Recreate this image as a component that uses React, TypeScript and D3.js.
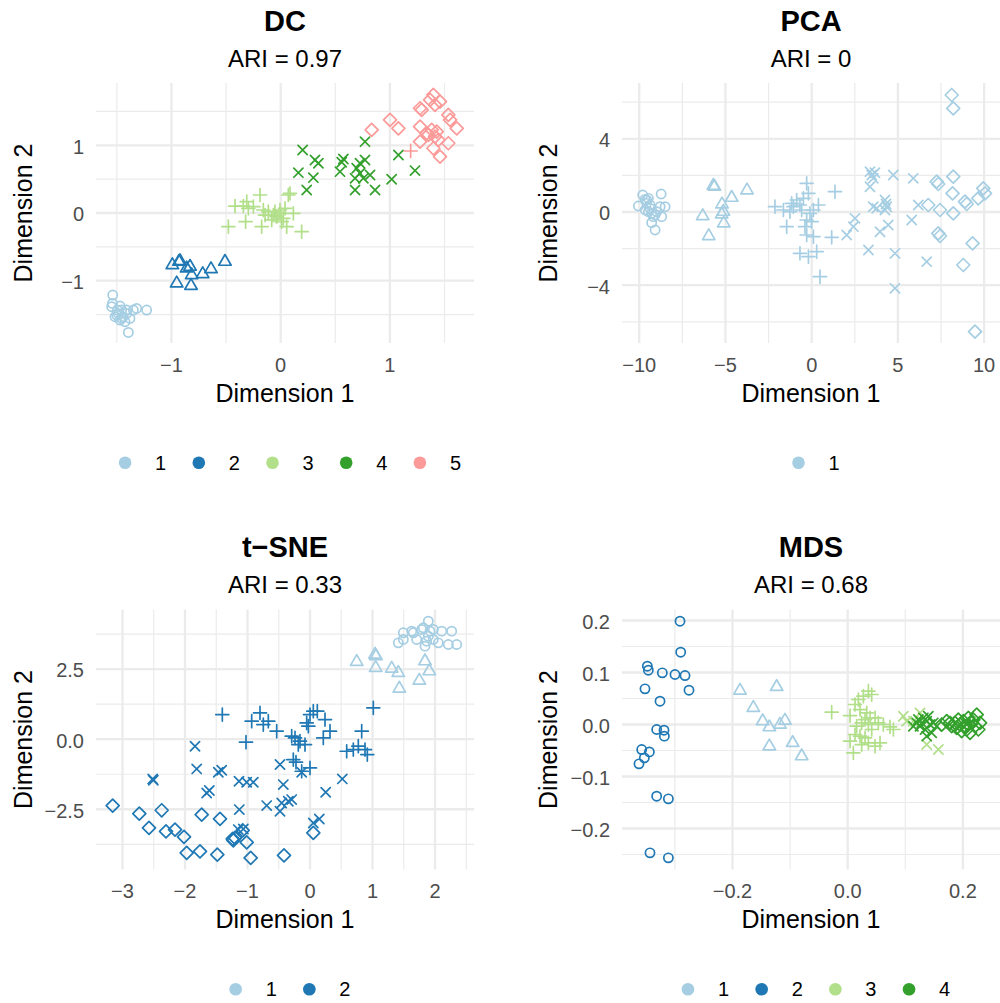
import React from "react";
import * as d3 from "d3";

type Pt = [number, number];

// Cluster colours (ColorBrewer "Paired")
const clusterColors = ["#A6CEE3", "#1F78B4", "#B2DF8A", "#33A02C", "#FB9A99"];

// ---------- DC ----------
const dcLabel1: Pt[] = [[-1.538,-1.212],[-1.541,-1.335],[-1.548,-1.384],[-1.471,-1.374],[-1.456,-1.433],[-1.502,-1.507],[-1.441,-1.532],[-1.410,-1.483],[-1.380,-1.557],[-1.471,-1.581],[-1.425,-1.606],[-1.395,-1.764],[-1.319,-1.409],[-1.227,-1.433],[-1.517,-1.532],[-1.487,-1.483],[-1.410,-1.433],[-1.349,-1.433],[-1.456,-1.557],[-1.496,-1.433]];
const dcLabel2: Pt[] = [[-0.992,-0.768],[-0.931,-0.719],[-0.922,-0.709],[-0.830,-0.793],[-0.815,-0.916],[-0.714,-0.901],[-0.638,-0.828],[-0.510,-0.719],[-0.952,-1.039],[-0.821,-1.074],[-0.861,-0.818]];
const dcLabel3: Pt[] = [[-0.479,-0.202],[-0.418,0.103],[-0.342,0.103],[-0.311,0.167],[-0.296,0.069],[-0.250,0.094],[-0.321,-0.128],[-0.189,0.266],[-0.174,-0.202],[-0.159,0.044],[-0.113,0.020],[-0.082,-0.103],[-0.067,-0.030],[-0.037,-0.054],[-0.006,-0.005],[0.009,-0.128],[0.024,-0.079],[0.040,0.069],[0.055,-0.202],[0.070,0.266],[0.085,0.291],[0.116,-0.005],[0.192,-0.276],[-0.006,0.044],[-0.052,0.020],[-0.143,-0.030]];
const dcLabel4: Pt[] = [[0.201,0.931],[0.314,0.783],[0.345,0.734],[0.162,0.596],[0.299,0.522],[0.238,0.340],[0.574,0.798],[0.559,0.749],[0.543,0.611],[0.772,1.054],[0.726,0.734],[0.772,0.783],[0.696,0.660],[0.726,0.586],[0.818,0.562],[0.681,0.512],[0.757,0.512],[0.681,0.340],[0.864,0.340],[1.016,0.498],[1.078,0.857],[1.230,0.626]];
const dcLabel5: Pt[] = [[0.833,1.227],[1.001,1.374],[1.078,1.251],[1.276,1.547],[1.291,1.522],[1.398,1.744],[1.459,1.645],[1.413,1.596],[1.368,1.670],[1.535,1.448],[1.551,1.374],[1.612,1.251],[1.276,1.276],[1.337,1.177],[1.383,1.227],[1.413,1.128],[1.429,1.202],[1.276,1.054],[1.398,0.956],[1.459,0.833],[1.535,1.030],[1.352,1.153],[1.444,1.079]];
const dcLabel3Stray: Pt[] = [[1.190,0.916]];

// ---------- PCA ----------
const pcaLabel1: Pt[] = [[-10.05,0.328],[-9.80,0.929],[-9.66,0.692],[-9.57,0.474],[-9.47,0.747],[-9.37,0.383],[-9.66,0.109],[-9.47,0.018],[-9.28,-0.073],[-9.08,-0.164],[-9.18,-0.255],[-8.99,0.018],[-8.79,0.291],[-8.73,0.984],[-8.50,0.291],[-8.70,-0.255],[-9.28,-0.583],[-9.08,-0.984],[-9.57,0.656],[-9.37,0.200]];
const pcaLabel2: Pt[] = [[-6.32,-0.219],[-5.97,-1.311],[-5.70,1.439],[-5.64,1.384],[-5.20,0.419],[-5.12,0.018],[-5.22,-0.128],[-5.10,-0.619],[-4.64,0.783],[-3.75,1.184]];
const pcaLabel3: Pt[] = [[-2.13,0.291],[-1.64,0.109],[-1.45,-0.801],[-1.16,0.474],[-1.06,0.291],[-0.87,0.656],[-0.68,0.383],[-0.58,0.109],[-0.48,0.747],[-0.29,1.567],[-0.19,1.020],[-0.29,-0.437],[-0.39,-0.801],[-0.10,-0.073],[0.10,0.109],[0.00,-0.528],[0.39,0.383],[-0.29,-1.257],[0.10,-1.348],[-0.68,-2.259],[-0.19,-2.441],[0.29,-2.168],[0.48,-3.534],[1.16,-1.384],[1.35,1.111],[-1.26,0.018]];
const pcaLabel4: Pt[] = [[2.03,-1.257],[2.42,-0.801],[2.51,-0.346],[3.29,-2.077],[3.38,2.204],[3.48,2.022],[3.57,1.840],[3.38,1.384],[3.57,0.291],[3.77,0.200],[3.96,-1.075],[4.25,0.656],[4.35,0.291],[4.44,-0.710],[4.25,0.109],[4.73,2.022],[4.83,-2.259],[4.83,-4.171],[5.89,1.840],[5.80,-0.437],[6.18,0.383],[6.67,-2.714],[3.67,2.149],[4.31,0.437]];
const pcaLabel5: Pt[] = [[6.76,0.383],[7.25,1.658],[7.34,1.530],[7.44,0.109],[8.21,1.931],[8.17,1.020],[8.21,-0.073],[8.89,0.565],[8.99,0.437],[9.66,0.747],[9.95,1.293],[10.05,1.020],[7.34,-1.166],[7.44,-1.311],[9.33,-1.712],[8.79,-2.896],[8.12,6.393],[8.21,5.665],[9.47,-6.539]];

// ---------- t-SNE ----------
const tsneLabel1: Pt[] = [[1.413,3.440],[1.493,3.560],[1.493,3.798],[1.627,3.857],[1.707,3.560],[1.787,3.917],[1.813,3.976],[1.893,4.214],[1.920,3.857],[1.867,3.500],[1.840,3.321],[1.973,3.560],[2.053,3.440],[2.107,3.857],[2.213,3.381],[2.267,3.857],[2.347,3.381],[1.893,3.679],[1.653,3.798],[1.973,3.917]];
const tsneLabel2: Pt[] = [[0.747,2.762],[1.040,3.024],[1.056,2.964],[1.051,2.548],[1.307,2.524],[1.413,2.369],[1.429,1.810],[1.749,2.095],[1.840,2.786],[1.909,2.429]];
const tsneLabel3: Pt[] = [[-1.403,0.881],[-1.024,-0.107],[-0.933,0.643],[-0.800,0.940],[-0.747,0.524],[-0.667,0.643],[-0.533,0.286],[-0.293,0.107],[-0.240,0.048],[-0.187,-0.190],[-0.160,-0.071],[-0.267,-0.726],[-0.224,-0.821],[-0.133,-1.143],[0.000,-1.024],[-0.053,0.583],[0.000,0.881],[0.053,1.000],[-0.027,0.464],[0.117,1.000],[0.240,0.702],[0.213,0.048],[0.320,0.286],[0.587,-0.429],[0.693,-0.369],[0.773,-0.250],[0.827,0.286],[0.880,-0.369],[0.917,-0.548],[1.013,1.119],[-0.080,-0.190]];
const tsneLabel4: Pt[] = [[-2.517,-1.417],[-2.507,-1.464],[-1.840,-0.250],[-1.813,-1.060],[-1.653,-1.917],[-1.611,-1.833],[-1.467,-1.179],[-1.413,-1.107],[-1.136,-1.500],[-1.013,-1.536],[-0.907,-1.536],[-1.131,-2.512],[-1.147,-3.226],[-1.067,-3.202],[-0.693,-2.369],[-0.480,-0.905],[-0.427,-1.619],[-0.453,-2.274],[-0.347,-2.214],[-0.293,-2.155],[-0.133,-1.179],[0.251,-1.893],[0.517,-1.417],[0.053,-2.988],[0.149,-2.845],[-0.480,-2.571]];
const tsneLabel5: Pt[] = [[-3.157,-2.369],[-2.731,-2.655],[-2.373,-2.536],[-2.576,-3.167],[-2.304,-3.286],[-2.160,-3.226],[-2.016,-3.488],[-1.973,-4.060],[-1.760,-4.000],[-1.733,-2.690],[-1.440,-2.845],[-1.483,-4.119],[-1.237,-3.560],[-1.200,-3.524],[-1.077,-3.250],[-1.013,-3.679],[-0.949,-4.238],[-0.416,-4.143],[0.053,-3.345],[-1.227,-3.607]];

// ---------- MDS ----------
const mdsLabel1: Pt[] = [[-0.2911,0.1987],[-0.2899,0.1391],[-0.3478,0.1122],[-0.3461,0.1045],[-0.3218,0.0994],[-0.2998,0.0962],[-0.2824,0.0942],[-0.3519,0.0686],[-0.2755,0.0660],[-0.3258,0.0449],[-0.3316,-0.0096],[-0.3189,-0.0109],[-0.3183,-0.0224],[-0.3576,-0.0481],[-0.3443,-0.0526],[-0.3530,-0.0641],[-0.3623,-0.0756],[-0.3316,-0.1378],[-0.3113,-0.1429],[-0.3432,-0.2468],[-0.3113,-0.2564]];
const mdsLabel2: Pt[] = [[-0.1869,0.0654],[-0.1233,0.0724],[-0.1638,0.0321],[-0.1476,0.0064],[-0.1360,-0.0051],[-0.1175,0.0000],[-0.1088,0.0077],[-0.1360,-0.0417],[-0.0955,-0.0353],[-0.0799,-0.0609]];
const mdsLabel3: Pt[] = [[-0.0278,0.0237],[0.0041,0.0173],[0.0127,0.0385],[0.0185,0.0481],[0.0272,0.0545],[0.0359,0.0641],[0.0417,0.0577],[0.0214,0.0288],[0.0330,0.0224],[0.0301,0.0096],[0.0388,0.0128],[0.0243,0.0032],[0.0359,0.0000],[0.0475,0.0128],[0.0532,0.0032],[0.0619,0.0000],[0.0735,-0.0045],[0.0793,-0.0096],[0.0127,-0.0192],[0.0041,-0.0321],[0.0098,-0.0545],[0.0214,-0.0224],[0.0301,-0.0256],[0.0359,-0.0353],[0.0475,-0.0417],[0.0561,-0.0353],[0.0243,-0.0385],[0.0417,-0.0096],[0.0156,-0.0032]];
const mdsLabel4InCluster3: Pt[] = [[0.0966,0.0160],[0.1024,0.0064],[0.1256,0.0224],[0.1372,-0.0385],[0.1574,-0.0481],[0.1140,0.0064]];
const mdsLabel4InCluster4: Pt[] = [[0.1198,0.0032],[0.1256,-0.0032],[0.1314,0.0128],[0.1372,0.0064],[0.1429,0.0000],[0.1343,-0.0096],[0.1227,0.0096],[0.1400,0.0160],[0.1140,-0.0032],[0.1458,-0.0160],[0.1285,0.0032],[0.1487,0.0032],[0.1545,-0.0032],[0.1372,-0.0224]];
const mdsLabel5: Pt[] = [[0.1719,0.0064],[0.1806,-0.0032],[0.1863,0.0032],[0.1921,0.0096],[0.1950,0.0000],[0.2008,0.0064],[0.2037,-0.0032],[0.2066,-0.0096],[0.2095,0.0000],[0.2153,0.0032],[0.2211,-0.0032],[0.2240,0.0192],[0.2269,-0.0096],[0.2124,-0.0160],[0.1979,-0.0128],[0.1892,-0.0064],[0.1777,0.0032],[0.2182,0.0096],[0.2297,0.0032],[0.2095,0.0128],[0.1632,0.0000]];

// ---------- axes ----------
const dcXTicks = [-1, 0, 1];
const dcXTickLabels = ["\u22121", "0", "1"];
const dcYTicks = [-1, 0, 1];
const dcYTickLabels = ["\u22121", "0", "1"];
const pcaXTicks = [-10, -5, 0, 5, 10];
const pcaXTickLabels = ["\u221210", "\u22125", "0", "5", "10"];
const pcaYTicks = [-4, 0, 4];
const pcaYTickLabels = ["\u22124", "0", "4"];
const tsneXTicks = [-3, -2, -1, 0, 1, 2];
const tsneXTickLabels = ["\u22123", "\u22122", "\u22121", "0", "1", "2"];
const tsneYTicks = [-2.5, 0, 2.5];
const tsneYTickLabels = ["\u22122.5", "0.0", "2.5"];
const mdsXTicks = [-0.2, 0, 0.2];
const mdsXTickLabels = ["\u22120.2", "0.0", "0.2"];
const mdsYTicks = [-0.2, -0.1, 0, 0.1, 0.2];
const mdsYTickLabels = ["\u22120.2", "\u22120.1", "0.0", "0.1", "0.2"];

type Series = { label: number; cluster: number; pts: Pt[] };

type PanelSpec = {
  title: string;
  ari: string;
  col: number;
  row: number;
  xDomain: [number, number];
  yDomain: [number, number];
  xTicks: number[];
  xTickLabels: string[];
  yTicks: number[];
  yTickLabels: string[];
  series: Series[];
  legend: number[];
};

const panels: PanelSpec[] = [
  {
    title: "DC", ari: "ARI = 0.97", col: 0, row: 0,
    xDomain: [-1.691, 1.770], yDomain: [-1.92, 1.92],
    xTicks: dcXTicks, xTickLabels: dcXTickLabels, yTicks: dcYTicks, yTickLabels: dcYTickLabels,
    series: [
      { label: 1, cluster: 1, pts: dcLabel1 },
      { label: 2, cluster: 2, pts: dcLabel2 },
      { label: 3, cluster: 3, pts: dcLabel3 },
      { label: 4, cluster: 4, pts: dcLabel4 },
      { label: 5, cluster: 5, pts: dcLabel5 },
      { label: 3, cluster: 5, pts: dcLabel3Stray },
    ],
    legend: [1, 2, 3, 4, 5],
  },
  {
    title: "PCA", ari: "ARI = 0", col: 1, row: 0,
    xDomain: [-11.0, 10.92], yDomain: [-7.158, 7.049],
    xTicks: pcaXTicks, xTickLabels: pcaXTickLabels, yTicks: pcaYTicks, yTickLabels: pcaYTickLabels,
    series: [
      { label: 1, cluster: 1, pts: pcaLabel1 },
      { label: 2, cluster: 1, pts: pcaLabel2 },
      { label: 3, cluster: 1, pts: pcaLabel3 },
      { label: 4, cluster: 1, pts: pcaLabel4 },
      { label: 5, cluster: 1, pts: pcaLabel5 },
    ],
    legend: [1],
  },
  {
    title: "t\u2212SNE", ari: "ARI = 0.33", col: 0, row: 1,
    xDomain: [-3.424, 2.624], yDomain: [-4.65, 4.63],
    xTicks: tsneXTicks, xTickLabels: tsneXTickLabels, yTicks: tsneYTicks, yTickLabels: tsneYTickLabels,
    series: [
      { label: 1, cluster: 1, pts: tsneLabel1 },
      { label: 2, cluster: 1, pts: tsneLabel2 },
      { label: 3, cluster: 2, pts: tsneLabel3 },
      { label: 4, cluster: 2, pts: tsneLabel4 },
      { label: 5, cluster: 2, pts: tsneLabel5 },
    ],
    legend: [1, 2],
  },
  {
    title: "MDS", ari: "ARI = 0.68", col: 1, row: 1,
    xDomain: [-0.3918, 0.2644], yDomain: [-0.2788, 0.2212],
    xTicks: mdsXTicks, xTickLabels: mdsXTickLabels, yTicks: mdsYTicks, yTickLabels: mdsYTickLabels,
    series: [
      { label: 1, cluster: 2, pts: mdsLabel1 },
      { label: 2, cluster: 1, pts: mdsLabel2 },
      { label: 3, cluster: 3, pts: mdsLabel3 },
      { label: 4, cluster: 3, pts: mdsLabel4InCluster3 },
      { label: 4, cluster: 4, pts: mdsLabel4InCluster4 },
      { label: 5, cluster: 4, pts: mdsLabel5 },
    ],
    legend: [1, 2, 3, 4],
  },
];

// R-style open plotting symbols (pch 1..5); "size" is the base radius in px
const pchTypes: Record<number, d3.SymbolType> = {
  1: { draw(ctx, r) { ctx.moveTo(r, 0); ctx.arc(0, 0, r, 0, 2 * Math.PI); } },
  2: { draw(ctx, r) { const a = 1.5551 * r, b = 1.3468 * r, c = 0.7776 * r; ctx.moveTo(0, -a); ctx.lineTo(b, c); ctx.lineTo(-b, c); ctx.closePath(); } },
  3: { draw(ctx, r) { const s = Math.SQRT2 * r; ctx.moveTo(-s, 0); ctx.lineTo(s, 0); ctx.moveTo(0, -s); ctx.lineTo(0, s); } },
  4: { draw(ctx, r) { ctx.moveTo(-r, -r); ctx.lineTo(r, r); ctx.moveTo(-r, r); ctx.lineTo(r, -r); } },
  5: { draw(ctx, r) { const s = Math.SQRT2 * r; ctx.moveTo(0, -s); ctx.lineTo(s, 0); ctx.lineTo(0, s); ctx.lineTo(-s, 0); ctx.closePath(); } },
};

const FONT = "'Liberation Sans', Arial, Helvetica, sans-serif";
const COL_X: [number, number][] = [[96, 474], [622, 1000]];
const ROW_OFFSET = [0, 526.5];
const POINT_R = 4.6;

function minorBreaks(major: number[], domain: [number, number]): number[] {
  const step = major[1] - major[0];
  const out: number[] = [];
  const ext = [major[0] - step, ...major, major[major.length - 1] + step];
  for (let i = 0; i < ext.length - 1; i++) {
    const m = (ext[i] + ext[i + 1]) / 2;
    if (m >= domain[0] && m <= domain[1]) out.push(m);
  }
  return out;
}

function Panel({ p }: { p: PanelSpec }) {
  const [x0, x1] = COL_X[p.col];
  const off = ROW_OFFSET[p.row];
  const y0 = 83 + off;
  const y1 = 343 + off;
  const x = d3.scaleLinear().domain(p.xDomain).range([x0, x1]);
  const y = d3.scaleLinear().domain(p.yDomain).range([y1, y0]);
  const cx = (x0 + x1) / 2;
  const sym = (shape: number) => d3.symbol().type(pchTypes[shape]).size(POINT_R)() as string;
  const legendStep = 73.7;
  const legendMid = cx - 12.5;
  const legendY = 462.7 + off;
  const n = p.legend.length;
  const yTitleX = p.col === 0 ? 31.5 : 557;
  return (
    <g>
      {/* grid */}
      {minorBreaks(p.xTicks, p.xDomain).map((v) => (
        <line key={"mx" + v} x1={x(v)} x2={x(v)} y1={y0} y2={y1} stroke="#EBEBEB" strokeWidth={1.2} />
      ))}
      {minorBreaks(p.yTicks, p.yDomain).map((v) => (
        <line key={"my" + v} x1={x0} x2={x1} y1={y(v)} y2={y(v)} stroke="#EBEBEB" strokeWidth={1.2} />
      ))}
      {p.xTicks.map((v) => (
        <line key={"Mx" + v} x1={x(v)} x2={x(v)} y1={y0} y2={y1} stroke="#EBEBEB" strokeWidth={2.3} />
      ))}
      {p.yTicks.map((v) => (
        <line key={"My" + v} x1={x0} x2={x1} y1={y(v)} y2={y(v)} stroke="#EBEBEB" strokeWidth={2.3} />
      ))}
      {/* points */}
      {p.series.map((s, si) =>
        s.pts.map((d, i) => (
          <path
            key={si + "-" + i}
            d={sym(s.label)}
            transform={`translate(${x(d[0])},${y(d[1])})`}
            fill="none"
            stroke={clusterColors[s.cluster - 1]}
            strokeWidth={1.7}
            strokeLinecap="round"
            strokeLinejoin="round"
          />
        ))
      )}
      {/* tick labels */}
      {p.xTicks.map((v, i) => (
        <text key={"tx" + v} x={x(v)} y={371.7 + off} textAnchor="middle" fontSize={20} fill="#4D4D4D" fontFamily={FONT}>
          {p.xTickLabels[i]}
        </text>
      ))}
      {p.yTicks.map((v, i) => (
        <text key={"ty" + v} x={x0 - 12} y={y(v) + 8.3} textAnchor="end" fontSize={20} fill="#4D4D4D" fontFamily={FONT}>
          {p.yTickLabels[i]}
        </text>
      ))}
      {/* titles */}
      <text x={cx} y={30.7 + off} textAnchor="middle" fontSize={29} fontWeight="bold" fontFamily={FONT} fill="#000">
        {p.title}
      </text>
      <text x={cx} y={66.7 + off} textAnchor="middle" fontSize={24} fontFamily={FONT} fill="#000">
        {p.ari}
      </text>
      <text x={cx} y={401.7 + off} textAnchor="middle" fontSize={25} fontFamily={FONT} fill="#000">
        Dimension 1
      </text>
      <text
        transform={`translate(${yTitleX},${(y0 + y1) / 2}) rotate(-90)`}
        textAnchor="middle"
        fontSize={25}
        fontFamily={FONT}
        fill="#000"
      >
        Dimension 2
      </text>
      {/* legend */}
      {p.legend.map((c, i) => {
        const lx = legendMid + (i - (n - 1) / 2) * legendStep;
        return (
          <g key={"lg" + c}>
            <circle cx={lx} cy={legendY} r={6.3} fill={clusterColors[c - 1]} />
            <text x={lx + 30} y={legendY + 7.2} fontSize={20} fontFamily={FONT} fill="#000">
              {String(c)}
            </text>
          </g>
        );
      })}
    </g>
  );
}

export default function App() {
  return (
    <svg
      width={1000}
      height={1003}
      style={{ position: "absolute", left: 0, top: 0, background: "#fff" }}
    >
      <rect width={1000} height={1003} fill="#fff" />
      {panels.map((p) => (
        <Panel key={p.title} p={p} />
      ))}
    </svg>
  );
}
